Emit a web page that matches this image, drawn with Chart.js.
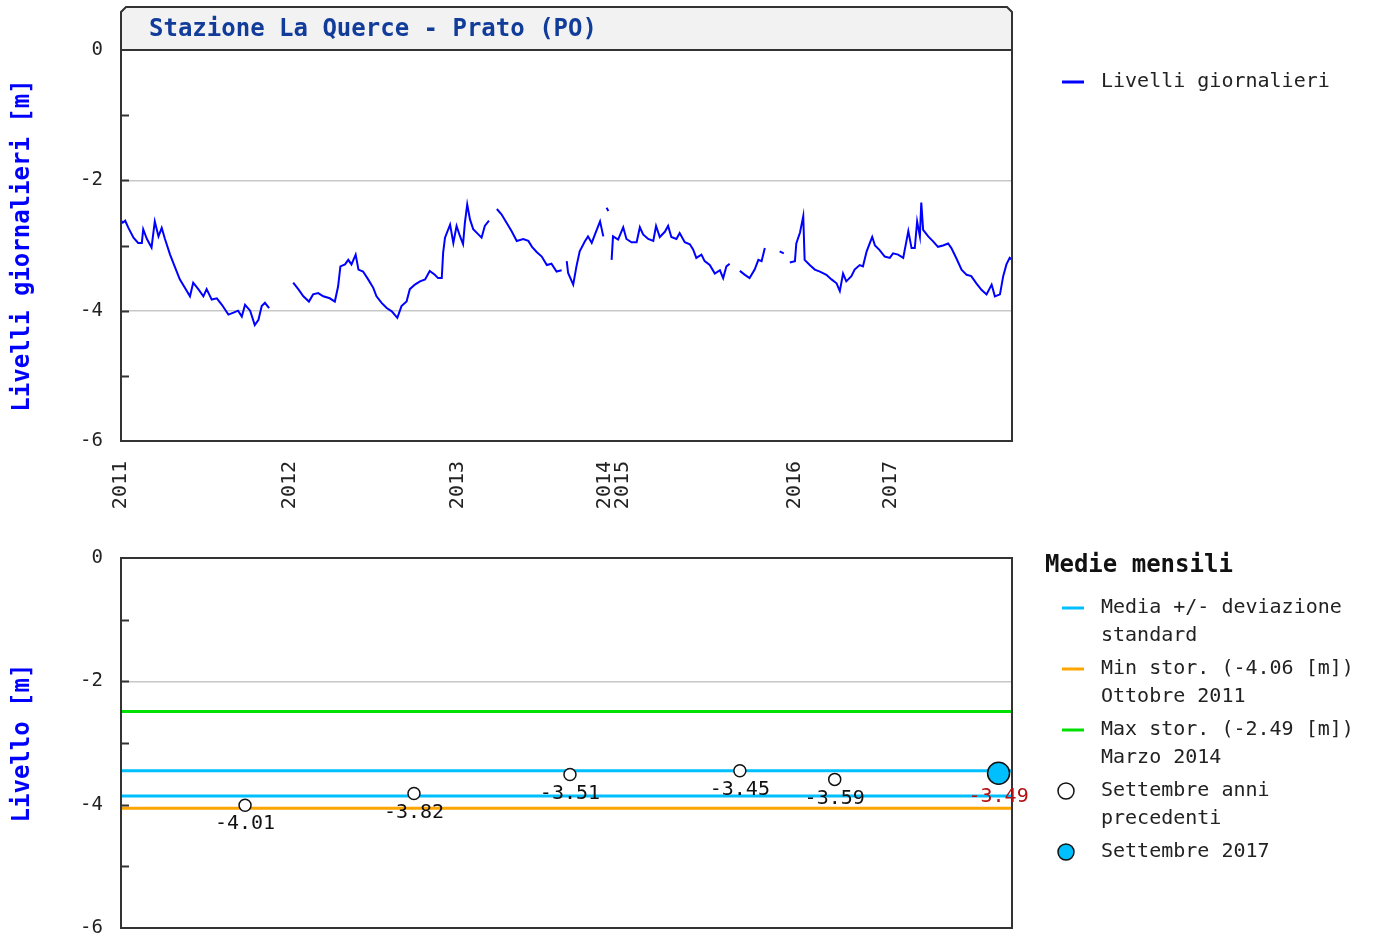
<!DOCTYPE html>
<html lang="it">
<head>
<meta charset="utf-8">
<title>Stazione La Querce - Prato (PO)</title>
<script src="https://cdn.jsdelivr.net/npm/chart.js@4.4.0/dist/chart.umd.min.js"></script>
<style>
  body { margin: 0; background: #fff; }
  canvas { position: absolute; left: 0; }
  #grafGiorn { top: 0; }
  #grafMensile { top: 520px; }
</style>
</head>
<body>
<canvas id="grafGiorn" width="1381" height="520"></canvas>
<canvas id="grafMensile" width="1381" height="422"></canvas>
<script>
const titolo = 'Stazione La Querce - Prato (PO)';

// asse x: progressivo delle misure (non il calendario), come nel grafico originale
const anniEtichette = ['2011', '2012', '2013', '2014', '2015', '2016', '2017'];
const anniIndice = [0, 365, 728, 1045, 1084, 1456, 1663];
const fineSerie = 1925;

// livelli giornalieri [m], null = dato mancante
const giorni = [
  0, 4, 9, 16, 27, 37, 45, 48, 56, 66, 73, 81, 88, 95, 106, 117, 127, 138, 149, 156,
  167, 178, 185, 196, 207, 218, 232, 243, 253, 261, 268, 279, 289, 297, 304, 311, 320, 345,
  372, 383, 394, 406, 415, 426, 437, 451, 462, 469, 474, 484, 491, 498, 507, 513, 523, 534, 545, 552,
  563, 574, 585, 597, 606, 617, 624, 635, 646, 657, 667, 678, 685, 693, 696, 700, 711, 718, 725, 732,
  739, 743, 748, 754, 761, 772, 779, 786, 795, 803, 812, 822, 833, 844, 855, 869, 880, 888, 898, 909,
  920, 930, 941, 952, 958, 963, 966, 977, 984, 991, 1002, 1009, 1017, 1024, 1035, 1042, 1046, 1049, 1053, 1056,
  1060, 1063, 1074, 1085, 1092, 1103, 1114, 1121, 1128, 1139, 1150, 1156, 1164, 1175, 1182, 1189, 1200, 1207, 1218, 1229,
  1236, 1243, 1254, 1261, 1272, 1283, 1294, 1301, 1308, 1315, 1325, 1337, 1348, 1358, 1369, 1377, 1384, 1391, 1405, 1423,
  1432, 1438, 1445, 1456, 1459, 1467, 1474, 1477, 1488, 1499, 1510, 1524, 1535, 1546, 1553, 1560, 1567, 1578, 1585, 1596,
  1603, 1611, 1618, 1623, 1629, 1639, 1650, 1661, 1668, 1679, 1690, 1701, 1708, 1715, 1720, 1726, 1729, 1733, 1744, 1755,
  1765, 1776, 1787, 1794, 1805, 1816, 1827, 1837, 1848, 1859, 1870, 1881, 1888, 1899, 1906, 1913, 1920, 1925
];
const livelli = [
  -2.62, -2.65, -2.62, -2.73, -2.88, -2.96, -2.96, -2.75, -2.90, -3.03, -2.63, -2.86, -2.73, -2.90, -3.14, -3.34, -3.52, -3.65, -3.78, -3.57,
  -3.67, -3.78, -3.67, -3.83, -3.81, -3.91, -4.06, -4.03, -4.00, -4.09, -3.91, -4.00, -4.22, -4.14, -3.93, -3.88, -3.96, null,
  -3.57, -3.67, -3.78, -3.86, -3.75, -3.73, -3.78, -3.81, -3.86, -3.63, -3.32, -3.29, -3.22, -3.29, -3.14, -3.37, -3.40, -3.52, -3.65, -3.78,
  -3.88, -3.96, -4.01, -4.11, -3.93, -3.86, -3.67, -3.60, -3.55, -3.52, -3.39, -3.45, -3.50, -3.50, -3.11, -2.88, -2.68, -2.96, -2.70, -2.85,
  -2.98, -2.65, -2.37, -2.60, -2.75, -2.83, -2.88, -2.70, -2.62, null, -2.44, -2.52, -2.65, -2.78, -2.93, -2.90, -2.93, -3.02, -3.10, -3.17,
  -3.30, -3.28, -3.40, -3.38, null, -3.24, -3.42, -3.60, -3.32, -3.09, -2.94, -2.86, -2.96, -2.83, -2.63, -2.86, null, -2.42, -2.47, null,
  -3.22, -2.86, -2.91, -2.72, -2.90, -2.95, -2.95, -2.72, -2.83, -2.90, -2.93, -2.70, -2.87, -2.79, -2.70, -2.87, -2.90, -2.81, -2.95, -2.98,
  -3.06, -3.19, -3.14, -3.24, -3.30, -3.43, -3.38, -3.50, -3.32, -3.28, null, -3.39, -3.45, -3.50, -3.37, -3.22, -3.24, -3.04, null, -3.09,
  -3.12, null, -3.26, -3.24, -2.97, -2.80, -2.55, -3.22, -3.30, -3.37, -3.40, -3.45, -3.52, -3.58, -3.70, -3.43, -3.55, -3.47, -3.37, -3.30,
  -3.32, -3.09, -2.96, -2.87, -3.00, -3.07, -3.17, -3.19, -3.12, -3.14, -3.19, -2.78, -3.04, -3.04, -2.63, -2.86, -2.34, -2.76, -2.86, -2.94,
  -3.02, -3.00, -2.97, -3.04, -3.20, -3.37, -3.45, -3.47, -3.58, -3.68, -3.75, -3.60, -3.78, -3.75, -3.47, -3.29, -3.19, -3.22
];

// medie mensili di settembre
const settembreIndice = [268, 633, 970, 1337, 1542];
const settembreValori = [-4.01, -3.82, -3.51, -3.45, -3.59];
const settembreCorrIndice = [1896];
const settembreCorrValori = [-3.49];
const mediaPiuDev = -3.45;
const mediaMenoDev = -3.86;
const minStorico = -4.06;
const maxStorico = -2.49;

const legendaGiornTesti = [['Livelli giornalieri']];
const legendaMensileTitolo = 'Medie mensili';
const legendaMensileTesti = [
  ['Media +/- deviazione', 'standard'],
  ['Min stor. (-4.06 [m])', 'Ottobre 2011'],
  ['Max stor. (-2.49 [m])', 'Marzo 2014'],
  ['Settembre anni', 'precedenti'],
  ['Settembre 2017']
];

const FONT = '"DejaVu Sans Mono", "Liberation Mono", monospace';
Chart.defaults.font.family = FONT;
Chart.defaults.color = '#222';

// cornice del grafico, tacche interne e intestazione
const cornice = {
  id: 'cornice',
  afterDatasetsDraw(chart, args, opt) {
    const { ctx, chartArea: a } = chart;
    const y = chart.scales.y;
    ctx.save();
    ctx.strokeStyle = '#333';
    ctx.lineWidth = 2;
    for (let v = -5; v <= -1; v++) {
      const py = Math.round(y.getPixelForValue(v)) + 0.5;
      ctx.beginPath();
      ctx.moveTo(a.left, py);
      ctx.lineTo(a.left + 8, py);
      ctx.stroke();
    }
    ctx.strokeRect(a.left, a.top, a.right - a.left, a.bottom - a.top);
    if (opt.intestazione) {
      const t = a.top - 43, c = 5;
      ctx.beginPath();
      ctx.moveTo(a.left, a.top);
      ctx.lineTo(a.left, t + c);
      ctx.lineTo(a.left + c, t);
      ctx.lineTo(a.right - c, t);
      ctx.lineTo(a.right, t + c);
      ctx.lineTo(a.right, a.top);
      ctx.closePath();
      ctx.fillStyle = '#f2f2f2';
      ctx.fill();
      ctx.stroke();
      ctx.fillStyle = '#123c9a';
      ctx.font = 'bold 24px ' + FONT;
      ctx.textBaseline = 'middle';
      ctx.fillText(opt.intestazione, a.left + 28, t + 23);
    }
    ctx.restore();
  }
};

// legenda a destra del grafico
const legendaDestra = {
  id: 'legendaDestra',
  afterDraw(chart, args, opt) {
    const ctx = chart.ctx;
    ctx.save();
    ctx.textBaseline = 'middle';
    if (opt.titolo) {
      ctx.font = 'bold 24px ' + FONT;
      ctx.fillStyle = '#111';
      ctx.fillText(opt.titolo, 1045, opt.yTitolo);
    }
    ctx.font = '20px ' + FONT;
    let y = opt.y;
    opt.voci.forEach(v => {
      if (v.tipo === 'linea') {
        ctx.strokeStyle = v.colore;
        ctx.lineWidth = 3;
        ctx.beginPath();
        ctx.moveTo(1062, y);
        ctx.lineTo(1084, y);
        ctx.stroke();
      } else {
        ctx.beginPath();
        ctx.arc(1066, y, 8, 0, Math.PI * 2);
        ctx.fillStyle = v.colore;
        ctx.fill();
        ctx.strokeStyle = '#111';
        ctx.lineWidth = 1.5;
        ctx.stroke();
      }
      ctx.fillStyle = '#222';
      v.righe.forEach((r, i) => ctx.fillText(r, 1101, y + i * 28));
      y += v.righe.length * 28 + 5;
    });
    ctx.restore();
  }
};

// valori sotto i punti delle medie di settembre
const etichetteValori = {
  id: 'etichetteValori',
  afterDraw(chart) {
    const ctx = chart.ctx;
    ctx.save();
    ctx.font = '20px ' + FONT;
    ctx.textAlign = 'center';
    ctx.textBaseline = 'middle';
    chart.data.datasets.forEach((ds, i) => {
      if (!ds.coloreEtichetta) return;
      chart.getDatasetMeta(i).data.forEach((p, j) => {
        ctx.fillStyle = ds.coloreEtichetta;
        ctx.fillText(ds.data[j].y.toFixed(2), p.x, p.y + ds.pointRadius + 13);
      });
    });
    ctx.restore();
  }
};

function scalaY(titoloAsse, griglia) {
  return {
    min: -6,
    max: 0,
    afterBuildTicks: s => { s.ticks = [-6, -4, -2, 0].map(v => ({ value: v })); },
    afterFit: s => {
      s.width = 121;
      // niente spazio extra sopra/sotto: l'area del grafico la decide il padding
      s.paddingTop = 0;
      s.paddingBottom = 0;
    },
    ticks: { font: { size: 19 }, color: '#222', padding: 18 },
    grid: {
      drawTicks: false,
      lineWidth: 1.5,
      color: c => (c.tick && griglia.includes(c.tick.value)) ? '#c8c8c8' : 'rgba(0,0,0,0)'
    },
    border: { display: false },
    title: {
      display: true,
      text: titoloAsse,
      color: '#0000ff',
      font: { size: 24, weight: 'bold' },
      padding: { top: 8, bottom: 0 }
    }
  };
}

const puntiGiorn = giorni.map((g, i) => ({ x: g, y: livelli[i] }));

new Chart(document.getElementById('grafGiorn'), {
  type: 'line',
  data: {
    datasets: [{
      label: legendaGiornTesti[0][0],
      data: puntiGiorn,
      borderColor: '#0000ff',
      borderWidth: 2,
      pointRadius: 0,
      tension: 0,
      spanGaps: false
    }]
  },
  options: {
    responsive: false,
    animation: false,
    layout: { padding: { top: 50, right: 369, bottom: 0, left: 0 } },
    plugins: {
      legend: { display: false },
      tooltip: { enabled: false },
      cornice: { intestazione: titolo },
      legendaDestra: {
        y: 82,
        voci: legendaGiornTesti.map(r => ({ righe: r, tipo: 'linea', colore: '#0000ff' }))
      }
    },
    scales: {
      x: {
        type: 'linear',
        min: 0,
        max: fineSerie,
        afterBuildTicks: s => { s.ticks = anniIndice.map(v => ({ value: v })); },
        afterFit: s => { s.height = 79; },
        ticks: {
          callback: (v, i) => anniEtichette[i],
          autoSkip: false,
          maxRotation: 90,
          minRotation: 90,
          padding: 20,
          font: { size: 20 },
          color: '#222'
        },
        grid: { display: false, drawTicks: false },
        border: { display: false }
      },
      y: scalaY('Livelli giornalieri [m]', [-2, -4])
    }
  },
  plugins: [cornice, legendaDestra]
});

const orizzontale = v => [{ x: 0, y: v }, { x: fineSerie, y: v }];
const stileLinea = { pointRadius: 0, borderWidth: 3, fill: false };
const coloriMensili = ['#00bfff', '#ffa500', '#00e000', '#ffffff', '#00bfff'];

new Chart(document.getElementById('grafMensile'), {
  type: 'line',
  data: {
    datasets: [
      {
        label: 'Settembre 2017',
        data: settembreCorrIndice.map((x, i) => ({ x, y: settembreCorrValori[i] })),
        showLine: false,
        pointRadius: 11,
        pointBackgroundColor: '#00bfff',
        pointBorderColor: '#111',
        pointBorderWidth: 1.5,
        coloreEtichetta: '#b01010',
        clip: false
      },
      {
        label: 'Settembre anni precedenti',
        data: settembreIndice.map((x, i) => ({ x, y: settembreValori[i] })),
        showLine: false,
        pointRadius: 6,
        pointBackgroundColor: '#ffffff',
        pointBorderColor: '#111',
        pointBorderWidth: 1.5,
        coloreEtichetta: '#111'
      },
      { label: 'Media + dev', data: orizzontale(mediaPiuDev), borderColor: '#00bfff', ...stileLinea },
      { label: 'Media - dev', data: orizzontale(mediaMenoDev), borderColor: '#00bfff', ...stileLinea },
      { label: 'Min stor.', data: orizzontale(minStorico), borderColor: '#ffa500', ...stileLinea },
      { label: 'Max stor.', data: orizzontale(maxStorico), borderColor: '#00e000', ...stileLinea }
    ]
  },
  options: {
    responsive: false,
    animation: false,
    layout: { padding: { top: 38, right: 369, bottom: 14, left: 0 } },
    plugins: {
      legend: { display: false },
      tooltip: { enabled: false },
      cornice: {},
      legendaDestra: {
        titolo: legendaMensileTitolo,
        yTitolo: 46,
        y: 88,
        voci: legendaMensileTesti.map((r, i) => ({
          righe: r,
          tipo: i < 3 ? 'linea' : 'punto',
          colore: coloriMensili[i]
        }))
      }
    },
    scales: {
      x: { type: 'linear', min: 0, max: fineSerie, display: false },
      y: scalaY('Livello [m]', [-2])
    }
  },
  plugins: [cornice, legendaDestra, etichetteValori]
});
</script>
</body>
</html>
